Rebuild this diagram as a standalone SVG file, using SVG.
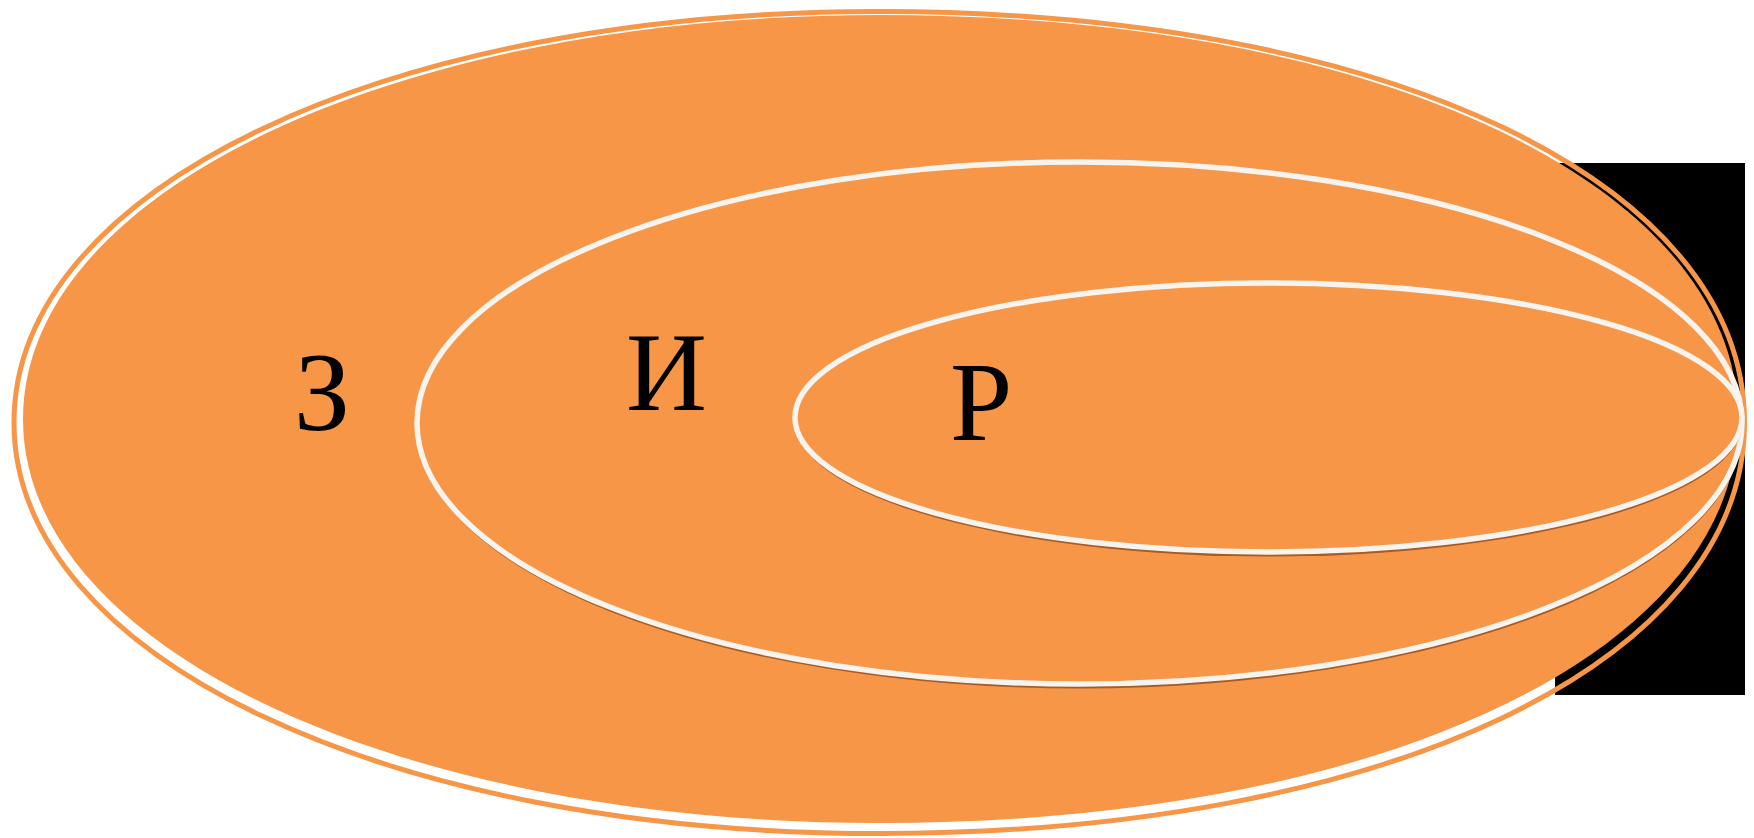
<svg xmlns="http://www.w3.org/2000/svg" width="1754" height="838" viewBox="0 0 1754 838">
  <style>
    .ring { fill: none; stroke: #F79646; stroke-width: 5; }
    .fill { fill: #F79646; }
    .set { fill: #F79646; stroke: #F7F3EE; stroke-width: 5.5; }
    .shadow { fill: #A95B26; }
    .lbl { font-family: "Liberation Serif", "Times New Roman", serif; font-size: 112px; fill: #000; }
  </style>
  <rect x="1555" y="163" width="190" height="532" fill="#000"/>
  <g id="node-Z">
    <path class="ring" d="M 1744.5,422.5 C 1744.5,182.1 1385.45,11.5 879.25,11.5 C 386.05,11.5 14,188.2 14,422.5 C 14,656.8 386.05,833.5 879.25,833.5 C 1385.45,833.5 1744.5,662.9 1744.5,422.5 Z"/>
    <path class="fill" d="M 1738,419 C 1738,184.7 1377.9,15 880.5,15 C 396,15 23,190.7 23,419 C 23,647.3 396,823 880.5,823 C 1377.9,823 1738,653.3 1738,419 Z"/>
    <text class="lbl" x="294" y="430">З</text>
  </g>
  <g id="node-I">
    <ellipse class="shadow" cx="1080" cy="427" rx="663" ry="261.5"/>
    <ellipse class="set" cx="1079.5" cy="423" rx="662.5" ry="261"/>
    <text class="lbl" x="626" y="410">И</text>
  </g>
  <g id="node-R">
    <ellipse class="shadow" cx="1269" cy="421.5" rx="474" ry="135"/>
    <ellipse class="set" cx="1268.5" cy="417.5" rx="473.5" ry="134.5"/>
    <text class="lbl" x="950" y="440">Р</text>
  </g>
  <g id="connectors"/>
</svg>
